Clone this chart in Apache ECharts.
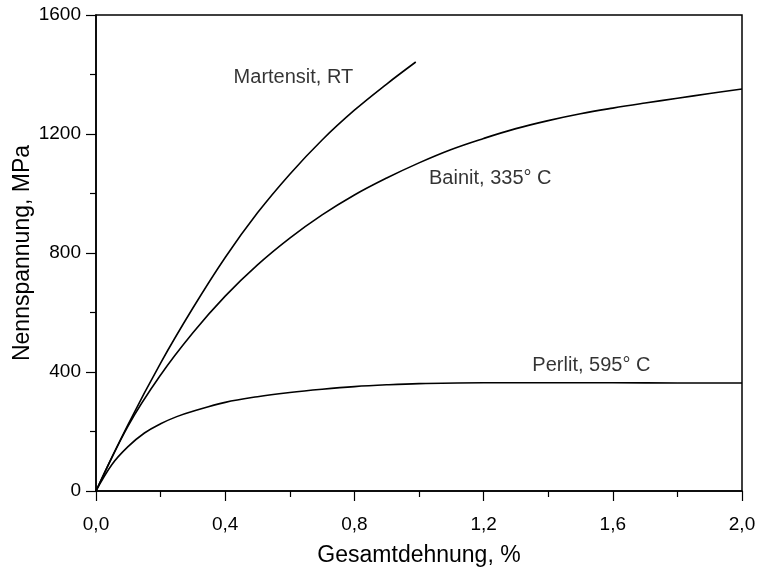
<!DOCTYPE html>
<html>
<head>
<meta charset="utf-8">
<script src="https://cdn.jsdelivr.net/npm/echarts@6/dist/echarts.min.js"></script>
<style>
  html, body { margin: 0; padding: 0; background: #fff; }
  #chart { width: 757px; height: 572px; }
</style>
</head>
<body>
<div id="chart"></div>
<script>
// Spannungs-Dehnungs-Kurven (Nennspannung über Gesamtdehnung)
const martensitX = [0, 0.1, 0.2, 0.3, 0.4, 0.5, 0.6, 0.7, 0.8, 0.9, 0.99];
const martensitY = [0, 225, 430, 615, 785, 935, 1065, 1180, 1280, 1368, 1442];

const bainitX = [0, 0.1, 0.2, 0.3, 0.4, 0.5, 0.6, 0.7, 0.8, 0.9, 1.0, 1.1, 1.2, 1.3, 1.4, 1.5, 1.6, 1.7, 1.8, 1.9, 2.0];
const bainitY = [0, 220, 390, 532, 655, 760, 850, 928, 995, 1052, 1103, 1148, 1185, 1218, 1245, 1268, 1287, 1304, 1320, 1336, 1351];

const perlitX = [0, 0.05, 0.1, 0.15, 0.2, 0.25, 0.3, 0.4, 0.5, 0.6, 0.7, 0.8, 0.9, 1.0, 1.2, 1.4, 1.6, 1.8, 2.0];
const perlitY = [0, 90, 150, 195, 226, 250, 268, 298, 317, 331, 342, 351, 357, 361, 364, 364, 364, 363, 363];

// Beschriftungen der Kurven: [Dehnung, Spannung, Text]
const curveLabels = [
  [0.426, 1389, 'Martensit, RT'],
  [1.031, 1050, 'Bainit, 335° C'],
  [1.351, 421, 'Perlit, 595° C']
];

const xTicks = { min: 0, max: 2.0, interval: 0.4 };
const yTicks = { min: 0, max: 1600, interval: 400 };

const FONT = '"Liberation Sans", Arial, sans-serif';

function pairs(xs, ys) { return xs.map((x, i) => [x, ys[i]]); }

function curve(name, xs, ys) {
  return {
    name: name,
    type: 'line',
    data: pairs(xs, ys),
    smooth: 0.4,
    showSymbol: false,
    lineStyle: { color: '#000', width: 1.6 },
    z: 3
  };
}

const axisCommon = {
  axisLine: { show: true, lineStyle: { color: '#000', width: 1.5 } },
  axisTick: { show: true, inside: false, length: 10, lineStyle: { color: '#000', width: 1.2 } },
  minorTick: { show: true, splitNumber: 2, length: 6, lineStyle: { color: '#000', width: 1.2 } },
  splitLine: { show: false },
  minorSplitLine: { show: false },
  nameLocation: 'middle',
  nameMoveOverlap: false,
  nameTextStyle: { color: '#000', fontFamily: FONT, fontSize: 23 }
};

const chart = echarts.init(document.getElementById('chart'), null, { renderer: 'canvas' });

chart.setOption({
  animation: false,
  backgroundColor: '#fff',
  grid: {
    left: 96, right: 15, top: 15, bottom: 81,
    outerBoundsMode: 'none',
    containLabel: false,
    show: true, borderColor: '#000', borderWidth: 1.5, backgroundColor: 'transparent'
  },
  xAxis: Object.assign({}, axisCommon, {
    type: 'value',
    min: xTicks.min, max: xTicks.max, interval: xTicks.interval,
    name: 'Gesamtdehnung, %',
    nameGap: 53,
    axisLabel: {
      color: '#000', fontFamily: FONT, fontSize: 19, margin: 24,
      formatter: v => v.toFixed(1).replace('.', ',')
    }
  }),
  yAxis: Object.assign({}, axisCommon, {
    type: 'value',
    min: yTicks.min, max: yTicks.max, interval: yTicks.interval,
    name: 'Nennspannung, MPa',
    nameGap: 62,
    nameRotate: 90,
    axisLabel: {
      color: '#000', fontFamily: FONT, fontSize: 19, margin: 15,
      formatter: v => String(v)
    }
  }),
  series: [
    curve('Martensit, RT', martensitX, martensitY),
    curve('Bainit, 335° C', bainitX, bainitY),
    curve('Perlit, 595° C', perlitX, perlitY),
    {
      type: 'scatter',
      symbolSize: 0,
      silent: true,
      data: curveLabels.map(d => ({ value: [d[0], d[1]], name: d[2] })),
      label: {
        show: true,
        position: 'right',
        distance: 0,
        formatter: p => p.name,
        color: '#000',
        fontFamily: FONT,
        fontSize: 20
      },
      z: 4
    }
  ]
});
</script>
</body>
</html>
